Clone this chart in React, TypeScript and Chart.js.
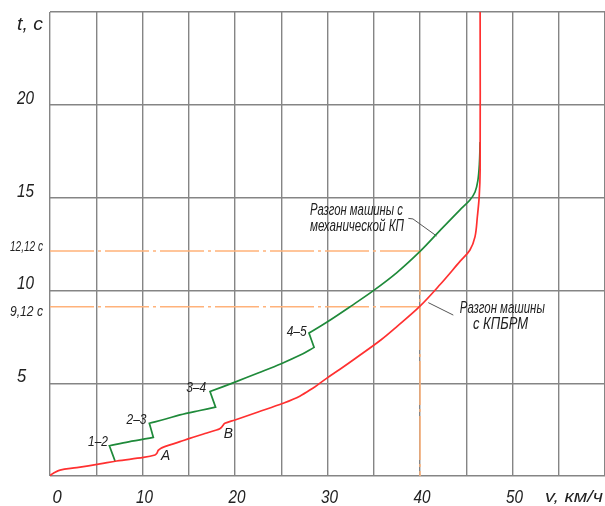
import React, { useEffect, useRef } from "react";
import { Chart, registerables } from "chart.js";

Chart.register(...registerables);

// ---- data (v, km/h ; t, s) ----
// Corner points (gear shifts, kinks) are listed twice so the smoothed line keeps a sharp corner there.
const vRed = [0, 0.15, 0.36, 1.08, 2.9, 5.4, 7.2, 10.1, 11.35, 11.55, 11.7, 12.0, 12.4, 14.05, 15.1, 16.6, 18.0, 18.35, 18.56, 18.75, 18.9, 20, 22.5, 25.2, 27, 28.65, 28.65, 29.9, 31.35, 33, 35.8, 37.5, 40, 42.2, 44.3, 45.4, 45.95, 46.2, 46.4, 46.5, 46.5];
const tRed = [0, 0.08, 0.15, 0.32, 0.45, 0.65, 0.81, 1.0, 1.13, 1.22, 1.38, 1.5, 1.58, 1.85, 2.03, 2.26, 2.48, 2.55, 2.63, 2.76, 2.84, 3.02, 3.45, 3.92, 4.3, 4.81, 4.81, 5.26, 5.75, 6.33, 7.34, 8.05, 9.15, 10.33, 11.55, 12.18, 12.9, 13.97, 15.05, 16.5, 25];

const vGreen = [7.03, 7.03, 6.42, 6.42, 8.5, 11.17, 11.17, 10.74, 10.74, 12.5, 14.05, 16.2, 17.9, 17.9, 17.3, 17.3, 20, 22.5, 25, 27, 28.55, 28.55, 28.0, 28.0, 30, 32.5, 35, 37.5, 40, 42.2, 44.3, 45.4, 45.95, 46.25, 46.42, 46.5];
const tGreen = [0.81, 0.81, 1.63, 1.63, 1.84, 2.08, 2.08, 2.84, 2.84, 3.07, 3.29, 3.53, 3.71, 3.71, 4.55, 4.55, 5.06, 5.55, 6.05, 6.5, 6.93, 6.93, 7.7, 7.7, 8.31, 9.14, 10.0, 10.96, 12.1, 13.25, 14.33, 14.87, 15.3, 15.9, 16.8, 18.0];

const markTimes = [12.12, 9.12];
const markSpeed = 40;
const markLabels = ["12,12 с", "9,12 с"];

const xTickValues = [0, 10, 20, 30, 40, 50];
const yTickValues = [5, 10, 15, 20];

const shiftLabels = ["1–2", "2–3", "3–4", "4–5"];
const shiftLabelV = [5.19, 9.35, 15.8, 26.67];
const shiftLabelT = [1.86, 3.02, 4.74, 7.77];

const pointLabels = ["А", "В"];
const pointLabelV = [12.49, 19.28];
const pointLabelT = [1.08, 2.26];

const leaderMechV = [38.74, 39.24, 41.8];
const leaderMechT = [13.88, 13.85, 12.93];
const leaderAutoV = [40.9, 43.6];
const leaderAutoT = [9.34, 8.67];

const RED = "#ff3030";
const GREEN = "#1f8a3a";
const ORANGE = "#ffb27a";
const GRID = "#858585";
const TEXT = "#222222";

const pts = (xs: number[], ys: number[]) => xs.map((x, i) => ({ x, y: ys[i] }));

function drawText(
  ctx: CanvasRenderingContext2D,
  text: string,
  x: number,
  y: number,
  size: number,
  width: number | null,
  align: CanvasTextAlign = "left"
) {
  ctx.save();
  ctx.font = `italic ${size}px 'Liberation Sans', Arial, sans-serif`;
  ctx.fillStyle = TEXT;
  ctx.textBaseline = "middle";
  ctx.textAlign = align;
  const m = ctx.measureText(text).width;
  const sx = width ? width / m : 0.92;
  ctx.translate(x, y);
  ctx.scale(sx, 1);
  ctx.fillText(text, 0, 0);
  ctx.restore();
}

const textPlugin = {
  id: "textLabels",
  afterDraw(chart: any) {
    const ctx = chart.ctx as CanvasRenderingContext2D;
    const xs = chart.scales.x;
    const ys = chart.scales.y;
    xTickValues.forEach((v) => {
      const px = xs.getPixelForValue(v) + (v === 0 ? 7 : 2);
      drawText(ctx, String(v), px, 497.5, 18, v === 0 ? null : 17, "center");
    });
    yTickValues.forEach((t) => {
      const py = ys.getPixelForValue(t) - 6;
      drawText(ctx, String(t), 17, py, 18, t === 5 ? null : 17, "left");
    });
    drawText(ctx, "t, с", 17, 25, 18, 26, "left");
    drawText(ctx, "v, км/ч", 545, 497.5, 17, 58, "left");
    drawText(ctx, markLabels[0], 10, ys.getPixelForValue(markTimes[0]) - 4, 14, 33, "left");
    drawText(ctx, markLabels[1], 10, ys.getPixelForValue(markTimes[1]) + 5.5, 14, 33, "left");
    shiftLabels.forEach((s, i) => {
      drawText(ctx, s, xs.getPixelForValue(shiftLabelV[i]), ys.getPixelForValue(shiftLabelT[i]), 15, 20, "center");
    });
    pointLabels.forEach((s, i) => {
      drawText(ctx, s, xs.getPixelForValue(pointLabelV[i]), ys.getPixelForValue(pointLabelT[i]), 15, null, "center");
    });
    drawText(ctx, "Разгон машины с", xs.getPixelForValue(28.1), ys.getPixelForValue(14.29), 16, 93, "left");
    drawText(ctx, "механической КП", xs.getPixelForValue(28.1), ys.getPixelForValue(13.43), 16, 94, "left");
    drawText(ctx, "Разгон машины", xs.getPixelForValue(44.3), ys.getPixelForValue(9.04), 16, 85, "left");
    drawText(ctx, "с КПБРМ", xs.getPixelForValue(45.73), ys.getPixelForValue(8.14), 16, 55, "left");
  },
};

export default function App() {
  const ref = useRef<HTMLCanvasElement | null>(null);

  useEffect(() => {
    document.body.style.margin = "0";
    const canvas = ref.current;
    if (!canvas) return;
    const dash = [44, 4, 3, 4];
    const line = (data: any[], color: string, width: number, order: number, extra: any = {}) => ({
      data,
      borderColor: color,
      backgroundColor: color,
      borderWidth: width,
      pointRadius: 0,
      showLine: true,
      tension: 0,
      fill: false,
      order,
      ...extra,
    });
    const chart = new Chart(canvas, {
      type: "scatter",
      data: {
        datasets: [
          line(pts(vRed, tRed), RED, 1.7, 1, { tension: 0.35 }),
          line(pts(vGreen, tGreen), GREEN, 1.7, 2, { tension: 0.35 }),
          line(pts(leaderMechV, leaderMechT), "#555555", 1, 3),
          line(pts(leaderAutoV, leaderAutoT), "#555555", 1, 3),
          line([{ x: 0, y: markTimes[0] }, { x: markSpeed, y: markTimes[0] }], ORANGE, 1.5, 4, { borderDash: dash }),
          line([{ x: 0, y: markTimes[1] }, { x: markSpeed, y: markTimes[1] }], ORANGE, 1.5, 4, { borderDash: dash }),
          line([{ x: markSpeed, y: markTimes[0] }, { x: markSpeed, y: 0 }], ORANGE, 1.5, 4, { borderDash: dash }),
        ],
      },
      options: {
        responsive: false,
        maintainAspectRatio: false,
        animation: false,
        events: [],
        layout: { padding: { left: 50, right: 0, top: 12, bottom: 30 } },
        plugins: { legend: { display: false }, tooltip: { enabled: false } },
        scales: {
          x: {
            type: "linear",
            min: 0,
            max: 60,
            ticks: { display: false, stepSize: 5 },
            grid: { color: GRID, lineWidth: 1.4, drawTicks: false },
            border: { display: false },
          },
          y: {
            type: "linear",
            min: 0,
            max: 25,
            ticks: { display: false, stepSize: 5 },
            grid: { color: GRID, lineWidth: 1.4, drawTicks: false },
            border: { display: false },
          },
        },
      },
      plugins: [textPlugin],
    });
    return () => chart.destroy();
  }, []);

  return (
    <div style={{ width: 605, height: 506, background: "#fff" }}>
      <canvas ref={ref} width={605} height={506} style={{ display: "block" }} />
    </div>
  );
}
